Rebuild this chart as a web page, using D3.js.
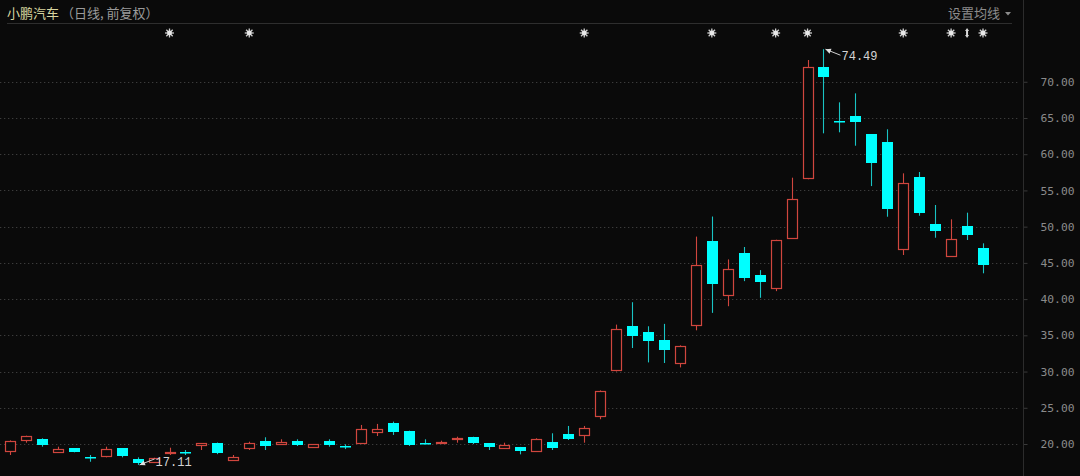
<!DOCTYPE html>
<html><head><meta charset="utf-8">
<script src="https://cdn.jsdelivr.net/npm/d3@7"></script>
<style>html,body{margin:0;padding:0;background:#0a0a0a;overflow:hidden}</style>
</head><body>
<svg id="c" width="1080" height="476"></svg>
<script>
// ---- data ----
const stockName = "小鹏汽车";
const subTitle = "（日线, 前复权）";
const maLabel = "设置均线";
const days = d3.range(62); // 62 trading days, left to right
const openP  = [19.07,20.55,20.65,18.85,19.40,18.24,18.38,19.40,17.88,17.55,18.90,18.95,19.82,20.18,17.78,19.40,20.46,19.96,20.46,19.63,20.46,19.76,20.18,21.70,22.95,21.84,20.12,20.10,20.75,20.93,20.10,19.49,19.54,19.03,20.32,21.38,21.25,23.88,30.25,36.34,35.42,34.40,31.18,36.48,48.02,40.54,46.41,43.31,41.60,48.47,56.67,72.08,64.60,65.31,62.75,61.73,46.96,56.89,50.41,45.90,50.09,47.09];
const closeP = [20.46,21.11,19.86,19.27,18.85,18.10,19.27,18.38,17.41,18.02,18.95,18.92,20.10,18.71,18.24,20.10,19.76,20.24,19.86,20.00,19.86,19.70,22.04,22.12,21.70,19.86,20.08,20.32,20.80,20.10,19.63,19.86,19.03,20.65,19.49,20.65,22.17,27.38,35.89,34.96,34.17,33.02,33.48,44.70,42.12,44.10,42.95,42.40,48.16,53.86,72.08,70.70,64.40,64.40,58.74,52.44,55.98,51.84,49.40,48.25,48.81,44.71];
const highP  = [20.50,21.15,20.79,19.63,19.45,18.48,19.63,19.40,18.16,18.10,19.49,19.17,20.10,20.20,18.48,20.32,20.93,20.65,20.65,20.00,20.65,19.96,22.63,22.77,23.09,21.84,20.65,20.46,21.01,21.00,20.10,20.18,19.60,20.79,21.48,22.49,22.49,27.40,36.48,39.57,36.25,36.58,33.62,48.63,51.40,45.48,47.19,44.00,48.20,56.76,73.00,74.49,67.16,68.40,62.75,63.44,57.36,57.54,52.99,51.01,51.93,47.70];
const lowP   = [18.48,20.18,19.63,18.85,18.85,17.55,18.16,18.16,17.11,17.50,18.48,18.48,19.17,18.60,17.78,19.17,19.17,19.96,19.72,19.49,19.63,19.30,20.18,21.10,21.25,19.72,19.96,20.05,20.18,20.00,19.17,19.49,18.57,19.00,19.17,20.55,20.18,23.42,30.01,33.25,31.26,31.18,30.57,35.69,38.10,39.02,42.48,40.18,41.10,48.33,56.54,62.88,63.02,61.17,55.60,51.37,46.09,51.51,48.47,45.90,48.16,43.56];
const priceTicks = [20,25,30,35,40,45,50,55,60,65,70];
const starDays = [10,15,36,44,48,50,56,59,61];
const splitDays = [60];
const maxLabel = "74.49", maxDay = 51;
const minLabel = "17.11", minDay = 8;

// ---- styles ----
const BG = "#0a0a0a", RED = "#d0463e", CYAN = "#00ffff", CYANW = "#19c4c4", GRID = "#3c3c3c";

const svg = d3.select("#c");
svg.append("rect").attr("width",1080).attr("height",476).attr("fill",BG);

const x = d3.scaleLinear().domain([0, 61]).range([10, 983]);
const y = d3.scaleLinear().domain([20, 70]).range([444, 81.75]);

// grid
svg.append("g").selectAll("line").data(priceTicks).join("line")
  .attr("x1",0).attr("x2",1020)
  .attr("y1",d=>Math.round(y(d))+0.5).attr("y2",d=>Math.round(y(d))+0.5)
  .attr("stroke",GRID).attr("stroke-width",1.2).attr("stroke-dasharray","1.3,2.7");

// right axis
const axis = d3.axisRight(y).tickValues(priceTicks).tickFormat(d3.format(".2f")).tickSize(4).tickPadding(13);
const ag = svg.append("g").attr("transform","translate(1023.5,0)").call(axis);
ag.select(".domain").remove();
ag.selectAll(".tick line").attr("stroke","#3a3a3a");
ag.selectAll(".tick text").attr("fill","#8a8a8a").attr("font-family","'DejaVu Sans Mono', monospace").attr("font-size","11.3px");
svg.append("line").attr("x1",1023.5).attr("x2",1023.5).attr("y1",0).attr("y2",476).attr("stroke","#2c2c2c");

// header
const ht = svg.append("text").attr("x",7).attr("y",18).attr("font-family","'Noto Sans CJK SC', sans-serif").attr("font-size","13px");
ht.append("tspan").attr("fill","#d9d6a0").text(stockName);
ht.append("tspan").attr("fill","#9a9a9a").attr("dx",2).text(subTitle);
svg.append("text").attr("x",1000).attr("y",18).attr("text-anchor","end").attr("fill","#8c8c8c")
  .attr("font-family","'Noto Sans CJK SC', sans-serif").attr("font-size","13px").text(maLabel);
svg.append("path").attr("d","M1005,12 L1011,12 L1008,15.5 Z").attr("fill","#8c8c8c");
svg.append("line").attr("x1",7).attr("x2",1012).attr("y1",23.5).attr("y2",23.5).attr("stroke","#2e2e2e");

// candles
const bw = 10;
const cg = svg.append("g");
days.forEach((d,i)=>{
  const o=openP[i], c=closeP[i], h=highP[i], l=lowP[i];
  const cx = Math.round(x(d)) + 0.5;
  const up = c >= o;
  const top = y(Math.max(o,c)), bot = y(Math.min(o,c));
  if (up) {
    const t = Math.round(top)+0.5, b = Math.max(Math.round(bot)+0.5, t+1);
    cg.append("line").attr("x1",cx).attr("x2",cx).attr("y1",y(h)).attr("y2",t).attr("stroke",RED).attr("stroke-width",1.1);
    cg.append("line").attr("x1",cx).attr("x2",cx).attr("y1",b).attr("y2",y(l)).attr("stroke",RED).attr("stroke-width",1.1);
    cg.append("rect").attr("x",cx-bw/2).attr("y",t).attr("width",bw).attr("height",b-t)
      .attr("fill",BG).attr("stroke",RED).attr("stroke-width",1.2);
  } else {
    cg.append("line").attr("x1",cx).attr("x2",cx).attr("y1",y(h)).attr("y2",y(l)).attr("stroke",CYANW).attr("stroke-width",1.1);
    const t = Math.round(top), hgt = Math.max(Math.round(bot)-t, 1.5);
    cg.append("rect").attr("x",cx-bw/2-0.5).attr("y",t).attr("width",bw+1).attr("height",hgt).attr("fill",CYAN);
  }
});

// markers
const mg = svg.append("g");
starDays.forEach(d=>{
  const cx = x(d), cy = 33;
  const s = mg.append("g").attr("transform",`translate(${cx},${cy})`);
  [0,45,90,135].forEach(a=>{
    s.append("line").attr("x1",-4.5).attr("x2",4.5).attr("y1",0).attr("y2",0)
      .attr("transform",`rotate(${a})`).attr("stroke","#cfcfcf").attr("stroke-width",1.3);
  });
  s.append("circle").attr("r",2.4).attr("fill","#e8e8e8");
});
splitDays.forEach(d=>{
  const cx = x(d), cy = 33;
  mg.append("path").attr("d",`M${cx},${cy-5} L${cx+2},${cy-2} L${cx+1},${cy-2} L${cx+1},${cy+2} L${cx+2},${cy+2} L${cx},${cy+5} L${cx-2},${cy+2} L${cx-1},${cy+2} L${cx-1},${cy-2} L${cx-2},${cy-2} Z`)
    .attr("fill","#d8d8d8");
});

// max / min annotations
function annot(day, val, label, dx, dy, anchorY){
  const px = x(day)+2, py = y(val);
  const ex = px + dx, ey = py + dy;
  const ang = Math.atan2(dy, dx);
  const ah = 6;
  svg.append("line").attr("x1",px).attr("y1",py).attr("x2",ex).attr("y2",ey).attr("stroke","#d0d0d0").attr("stroke-width",1);
  const a1 = ang + 0.45, a2 = ang - 0.45;
  svg.append("path").attr("d",`M${px},${py} L${px+ah*Math.cos(a1)},${py+ah*Math.sin(a1)} L${px+ah*Math.cos(a2)},${py+ah*Math.sin(a2)} Z`).attr("fill","#e0e0e0");
  svg.append("text").attr("x",ex+1).attr("y",anchorY).attr("fill","#d4d4d4")
    .attr("font-family","'Liberation Mono', monospace").attr("font-size","12px").text(label);
}
annot(maxDay, highP[maxDay], maxLabel, 15, 6, 60);
annot(minDay, lowP[minDay], minLabel, 15, -6, 466);
</script>
</body></html>
